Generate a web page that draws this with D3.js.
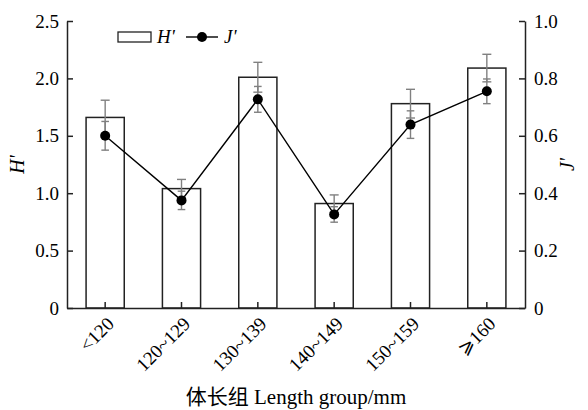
<!DOCTYPE html>
<html>
<head>
<meta charset="utf-8">
<script src="https://cdn.jsdelivr.net/npm/d3@7"></script>
<style>
  body { margin: 0; background: #fff; }
  svg { display: block; font-family: "Liberation Serif", "Times New Roman", serif; }
</style>
</head>
<body>
<svg id="chart"></svg>
<script>
const width = 588;
const height = 410;

// data
const groups = ["<120", "120~129", "130~139", "140~149", "150~159", "\u2A7E160"];
const hValues = [1.66, 1.04, 2.01, 0.91, 1.78, 2.09];
const hErrors = [0.15, 0.08, 0.13, 0.075, 0.125, 0.12];
const jValues = [0.60, 0.375, 0.727, 0.326, 0.639, 0.755];
const jErrors = [0.05, 0.032, 0.045, 0.027, 0.048, 0.043];
const hTicks = [0, 0.5, 1.0, 1.5, 2.0, 2.5];
const jTicks = [0, 0.2, 0.4, 0.6, 0.8, 1.0];

const margin = { top: 21, right: 63, bottom: 102, left: 67 };

const svg = d3.select("#chart")
    .attr("width", width)
    .attr("height", height);

const innerWidth = width - margin.left - margin.right;
const innerHeight = height - margin.top - margin.bottom;

const g = svg.append("g")
    .attr("transform", `translate(${margin.left},${margin.top})`);

const x = d3.scaleBand()
    .domain(groups)
    .range([0, innerWidth])
    .paddingInner(0.5)
    .paddingOuter(0.25);

const yH = d3.scaleLinear().domain([0, 2.5]).range([innerHeight, 0]);
const yJ = d3.scaleLinear().domain([0, 1]).range([innerHeight, 0]);

const cx = d => x(d) + x.bandwidth() / 2;

const data = groups.map((grp, i) => ({
    grp,
    h: hValues[i],
    hErr: hErrors[i],
    j: jValues[i],
    jErr: jErrors[i]
}));

// bars
g.selectAll("rect.bar")
    .data(data)
    .enter()
    .append("rect")
    .attr("class", "bar")
    .attr("x", d => x(d.grp))
    .attr("y", d => yH(d.h))
    .attr("width", x.bandwidth())
    .attr("height", d => innerHeight - yH(d.h))
    .attr("fill", "#fff")
    .attr("stroke", "#222")
    .attr("stroke-width", 1.5);

function errorBars(cls, yScale, val, err, cap) {
    const eb = g.selectAll("g." + cls)
        .data(data)
        .enter()
        .append("g")
        .attr("class", cls)
        .attr("stroke", "#808080")
        .attr("stroke-width", 1.4);

    eb.append("line")
        .attr("x1", d => cx(d.grp))
        .attr("x2", d => cx(d.grp))
        .attr("y1", d => yScale(val(d) + err(d)))
        .attr("y2", d => yScale(val(d) - err(d)));

    [1, -1].forEach(s => {
        eb.append("line")
            .attr("x1", d => cx(d.grp) - cap)
            .attr("x2", d => cx(d.grp) + cap)
            .attr("y1", d => yScale(val(d) + s * err(d)))
            .attr("y2", d => yScale(val(d) + s * err(d)));
    });
}

errorBars("herr", yH, d => d.h, d => d.hErr, 4.5);
errorBars("jerr", yJ, d => d.j, d => d.jErr, 3.8);

// J' line
const line = d3.line()
    .x(d => cx(d.grp))
    .y(d => yJ(d.j));

g.append("path")
    .datum(data)
    .attr("d", line)
    .attr("fill", "none")
    .attr("stroke", "#000")
    .attr("stroke-width", 1.4);

g.selectAll("circle.dot")
    .data(data)
    .enter()
    .append("circle")
    .attr("class", "dot")
    .attr("cx", d => cx(d.grp))
    .attr("cy", d => yJ(d.j))
    .attr("r", 5)
    .attr("fill", "#000");

// axes
function styleAxis(sel) {
    sel.attr("font-family", "Liberation Serif, serif").attr("font-size", 19);
    sel.select(".domain").attr("stroke", "#222").attr("stroke-width", 1.5);
    sel.selectAll(".tick line").attr("stroke", "#222").attr("stroke-width", 1.5);
    sel.selectAll(".tick text").attr("fill", "#000");
}

const fmt = d => d === 0 ? "0" : d3.format(".1f")(d);

g.append("g")
    .call(d3.axisLeft(yH).tickValues(hTicks).tickFormat(fmt)
        .tickSizeInner(-6).tickSizeOuter(0).tickPadding(8))
    .call(styleAxis);

g.append("g")
    .attr("transform", `translate(${innerWidth},0)`)
    .call(d3.axisRight(yJ).tickValues(jTicks).tickFormat(fmt)
        .tickSizeInner(-6).tickSizeOuter(0).tickPadding(9))
    .call(styleAxis);

const xAxis = g.append("g")
    .attr("transform", `translate(0,${innerHeight})`)
    .call(d3.axisBottom(x).tickSizeInner(-6).tickSizeOuter(0))
    .call(styleAxis);

xAxis.selectAll(".tick text")
    .attr("x", 0)
    .attr("y", 0)
    .attr("dy", 0)
    .attr("text-anchor", "end")
    .attr("transform", "translate(10,17) rotate(-45)");

// axis titles
svg.append("text")
    .attr("transform", `translate(24,${margin.top + innerHeight / 2}) rotate(-90)`)
    .attr("text-anchor", "middle")
    .style("font-size", "20px")
    .style("font-style", "italic")
    .text("H'");

svg.append("text")
    .attr("transform", `translate(574,${margin.top + innerHeight / 2}) rotate(-90)`)
    .attr("text-anchor", "middle")
    .style("font-size", "20px")
    .style("font-style", "italic")
    .text("J'");

svg.append("text")
    .attr("x", margin.left + innerWidth / 2)
    .attr("y", 404)
    .attr("text-anchor", "middle")
    .style("font-size", "21px")
    .style("font-family", "'Liberation Serif', 'Noto Sans CJK SC', serif")
    .text("体长组 Length group/mm");

// legend
const legend = svg.append("g").attr("transform", "translate(118,32)");

legend.append("rect")
    .attr("x", 0)
    .attr("y", 0)
    .attr("width", 33)
    .attr("height", 10)
    .attr("fill", "#fff")
    .attr("stroke", "#222")
    .attr("stroke-width", 1.3);

legend.append("text")
    .attr("x", 39)
    .attr("y", 11)
    .style("font-size", "19px")
    .style("font-style", "italic")
    .text("H'");

legend.append("line")
    .attr("x1", 68)
    .attr("x2", 100)
    .attr("y1", 5)
    .attr("y2", 5)
    .attr("stroke", "#000")
    .attr("stroke-width", 1.4);

legend.append("circle")
    .attr("cx", 84)
    .attr("cy", 5)
    .attr("r", 5)
    .attr("fill", "#000");

legend.append("text")
    .attr("x", 106)
    .attr("y", 11)
    .style("font-size", "19px")
    .style("font-style", "italic")
    .text("J'");
</script>
</body>
</html>
